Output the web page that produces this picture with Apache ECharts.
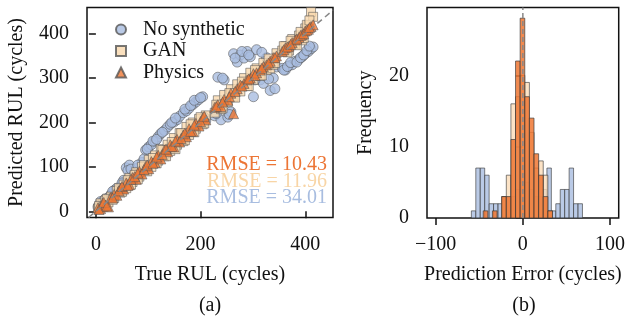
<!DOCTYPE html>
<html><head><meta charset="utf-8">
<script src="https://cdn.jsdelivr.net/npm/echarts@6/dist/echarts.min.js"></script>
<style>html,body{margin:0;padding:0;background:#fff}#c{width:628px;height:323px}</style>
</head><body><div id="c"></div>
<script>
// ---------- data ----------
const trueRUL = [4, 9, 13, 18, 24, 29, 35, 40, 47, 53, 58, 64, 70, 77, 83, 88, 95, 101, 106, 113,
  119, 124, 131, 137, 142, 149, 155, 160, 167, 173, 178, 185, 191, 197, 204, 210, 227, 233, 239, 245,
  252, 258, 263, 270, 276, 283, 289, 295, 301, 307, 314, 320, 326, 333, 339, 345, 356, 362, 369, 375,
  381, 388, 394, 400, 406, 411, 415,
  6, 15, 21, 32, 44, 50, 61, 67, 74, 80, 92, 98, 109, 116, 127, 134, 145, 152, 163, 170,
  181, 188, 200, 207, 230, 242, 255, 266, 279, 292, 304, 317, 330, 342, 359, 366, 372, 384, 391, 397,
  403, 408];
const predNoSynthetic = [10, 22, 16, 28, 31, 38, 47, 52, 55, 70, 98, 104, 88, 96, 90, 110, 138, 145, 150, 158,
  168, 175, 182, 190, 196, 201, 206, 214, 222, 226, 232, 240, 246, 252, 258, 204, 215, 302, 206, 296,
  212, 224, 355, 336, 352, 345, 360, 348, 258, 364, 296, 288, 346, 272, 300, 325, 322, 318, 328, 330,
  338, 342, 348, 355, 360, 366, 370,
  14, 24, 20, 45, 50, 64, 92, 95, 84, 104, 118, 140, 158, 162, 178, 140, 200, 210, 172, 230,
  238, 250, 256, 212, 220, 300, 218, 345, 360, 352, 296, 358, 298, 276, 318, 326, 335, 336, 346, 352,
  362, 372];
const predGAN = [6, 18, 10, 24, 20, 33, 30, 46, 42, 60, 52, 75, 66, 88, 78, 100, 92, 116, 100, 126,
  114, 140, 124, 150, 136, 165, 150, 176, 158, 190, 172, 200, 186, 208, 196, 216, 222, 250, 230, 262,
  246, 275, 258, 286, 270, 300, 282, 312, 296, 322, 305, 334, 318, 322, 330, 356, 362, 372, 362, 388,
  376, 396, 385, 412, 418, 449, 438,
  12, 10, 28, 26, 52, 44, 70, 60, 82, 72, 104, 90, 120, 108, 138, 124, 156, 140, 176, 160,
  196, 178, 212, 198, 240, 232, 266, 256, 292, 282, 318, 306, 344, 334, 372, 358, 384, 374, 404, 390,
  420, 430];
const predPhysics = [8, 6, 18, 14, 10, 32, 38, 36, 52, 50, 64, 60, 76, 72, 90, 84, 101, 96, 112, 110,
  126, 118, 138, 134, 150, 145, 162, 156, 172, 168, 186, 180, 198, 192, 210, 206, 234, 240, 236, 252,
  250, 266, 220, 276, 284, 288, 296, 300, 310, 312, 318, 326, 330, 338, 346, 350, 360, 368, 372, 380,
  386, 392, 398, 406, 410, 416, 420,
  4, 20, 12, 30, 46, 56, 58, 72, 78, 86, 94, 104, 108, 122, 128, 140, 146, 158, 164, 176,
  180, 194, 202, 214, 236, 246, 258, 270, 282, 298, 306, 322, 334, 346, 364, 370, 376, 388, 396, 400,
  408, 414];
const seriesNames = ['No synthetic', 'GAN', 'Physics'];
const rmseLabels = ['RMSE = 10.43', 'RMSE = 11.96', 'RMSE = 34.01'];

const histEdgesNoSynthetic = [-59.1, -54.0, -48.9, -43.8, -38.7, -33.6, -28.5, -23.4, -18.3, -13.2, -8.1, -3.0,
  2.1, 7.2, 12.3, 17.4, 22.5, 27.6, 32.7, 37.8, 42.9, 48.0, 53.1, 58.2, 63.3, 68.4];
const histCountsNoSynthetic = [1, 7, 7, 6, 2, 2, 2, 3, 3, 3, 4, 5, 5, 4, 3, 3, 4, 7, 1, 2, 4, 4, 7, 2, 2];
const histEdgesSynthetic = [-45.5, -40.2, -34.9, -29.6, -24.3, -19.0, -13.7, -8.4, -3.1, 2.2, 7.5, 12.8, 18.1, 23.4, 28.7, 34.0];
const histCountsGAN = [0, 0, 0, 0, 3, 6, 16, 17, 20, 19, 12, 7, 8, 6, 1];
const histCountsPhysics = [1, 0, 1, 0, 3, 3, 11, 22, 28, 17, 14, 9, 6, 3, 1];

const scatterXTicks = [0, 200, 400];
const scatterYTicks = [0, 100, 200, 300, 400];
const histXTicks = [-100, 0, 100];
const histYTicks = [0, 10, 20];

// ---------- styles ----------
const FONT = 'Liberation Serif';
const C_BLUE = '#a9bde0', C_BEIGE = '#f9d8ae', C_ORANGE = '#ee7733';
const BLACK = '#111';

const pairs = (ys) => trueRUL.map((x, i) => [x, ys[i]]);
const bins = (edges, counts) => counts.map((c, i) => [edges[i], edges[i + 1], c]);

function histRender(fill, opacity) {
  return function (params, api) {
    const h = api.value(2);
    if (!h) return null;
    const a = api.coord([api.value(0), h]);
    const b = api.coord([api.value(1), 0]);
    return {
      type: 'rect',
      shape: { x: a[0], y: a[1], width: b[0] - a[0], height: b[1] - a[1] },
      style: { fill: fill, stroke: '#3a3a3a', lineWidth: 0.8, opacity: opacity }
    };
  };
}

const minusFmt = (v) => String(v).replace('-', '\u2212');

function valueAxis(gi, min, max, ticks, name, nameGap, isY) {
  return {
    type: 'value', gridIndex: gi, min: min, max: max,
    name: name, nameLocation: 'middle', nameGap: nameGap,
    nameTextStyle: { fontFamily: FONT, fontSize: 20, color: BLACK },
    axisLine: { show: false },
    splitLine: { show: false },
    axisTick: { show: true, customValues: ticks, length: 7, lineStyle: { color: BLACK, width: 1.5 } },
    axisLabel: { customValues: ticks, fontFamily: FONT, fontSize: 20, color: BLACK,
      margin: isY ? 18 : 17, formatter: minusFmt }
  };
}

const chart = echarts.init(document.getElementById('c'), null, { renderer: 'canvas' });
chart.setOption({
  animation: false,
  backgroundColor: '#fff',
  grid: [
    { left: 87, top: 7.5, width: 246, height: 210, show: true, borderColor: BLACK, borderWidth: 1.5, backgroundColor: 'transparent' },
    { left: 427, top: 7.5, width: 194, height: 210.5, show: true, borderColor: BLACK, borderWidth: 1.5, backgroundColor: 'transparent' }
  ],
  xAxis: [
    valueAxis(0, -17, 453, scatterXTicks, 'True RUL (cycles)', 47, false),
    valueAxis(1, -110, 110, histXTicks, 'Prediction Error (cycles)', 47, false)
  ],
  yAxis: [
    valueAxis(0, -14, 459, scatterYTicks, 'Predicted RUL (cycles)', 60, true),
    valueAxis(1, 0, 29.5, histYTicks, 'Frequency', 51, true)
  ],
  legend: {
    data: seriesNames, orient: 'vertical', left: 115, top: 19.5, padding: 0,
    itemWidth: 10, itemHeight: 10, itemGap: 1.5,
    textStyle: { fontFamily: FONT, fontSize: 20, color: BLACK, lineHeight: 20, padding: [0, 0, 0, 12] }
  },
  graphic: [
    { type: 'text', x: 327, y: 165, style: { text: rmseLabels[0], fill: '#ec7535', font: '20px "Liberation Serif"', textAlign: 'right', textVerticalAlign: 'middle' } },
    { type: 'text', x: 327, y: 182, style: { text: rmseLabels[1], fill: '#f8d5a6', font: '20px "Liberation Serif"', textAlign: 'right', textVerticalAlign: 'middle' } },
    { type: 'text', x: 327, y: 198, style: { text: rmseLabels[2], fill: '#a8bde0', font: '20px "Liberation Serif"', textAlign: 'right', textVerticalAlign: 'middle' } },
    { type: 'text', x: 210, y: 306, style: { text: '(a)', fill: BLACK, font: '20px "Liberation Serif"', textAlign: 'center', textVerticalAlign: 'middle' } },
    { type: 'text', x: 524, y: 306, style: { text: '(b)', fill: BLACK, font: '20px "Liberation Serif"', textAlign: 'center', textVerticalAlign: 'middle' } }
  ],
  series: [
    { name: seriesNames[0], type: 'scatter', xAxisIndex: 0, yAxisIndex: 0, symbol: 'circle', symbolSize: 10,
      data: pairs(predNoSynthetic), itemStyle: { color: C_BLUE, opacity: 0.8, borderColor: '#555', borderWidth: 0.7 }, z: 2 },
    { name: seriesNames[1], type: 'scatter', xAxisIndex: 0, yAxisIndex: 0, symbol: 'rect', symbolSize: 9,
      data: pairs(predGAN), itemStyle: { color: C_BEIGE, opacity: 0.8, borderColor: '#555', borderWidth: 0.7 }, z: 3 },
    { name: seriesNames[2], type: 'scatter', xAxisIndex: 0, yAxisIndex: 0, symbol: 'triangle', symbolSize: 10,
      data: pairs(predPhysics), itemStyle: { color: C_ORANGE, opacity: 0.8, borderColor: '#555', borderWidth: 0.7 }, z: 4 },
    { name: 'ideal', type: 'line', xAxisIndex: 0, yAxisIndex: 0, data: [[-14, -14], [453, 453]], symbol: 'none',
      lineStyle: { color: '#888', width: 1.5, type: [6, 4] }, z: 5, silent: true },
    { name: 'hist No synthetic', type: 'custom', xAxisIndex: 1, yAxisIndex: 1, encode: { x: [0, 1], y: 2 },
      data: bins(histEdgesNoSynthetic, histCountsNoSynthetic), renderItem: histRender(C_BLUE, 0.8), z: 2 },
    { name: 'hist GAN', type: 'custom', xAxisIndex: 1, yAxisIndex: 1, encode: { x: [0, 1], y: 2 },
      data: bins(histEdgesSynthetic, histCountsGAN), renderItem: histRender('#fbdcb8', 0.8), z: 3 },
    { name: 'hist Physics', type: 'custom', xAxisIndex: 1, yAxisIndex: 1, encode: { x: [0, 1], y: 2 },
      data: bins(histEdgesSynthetic, histCountsPhysics), renderItem: histRender(C_ORANGE, 0.85), z: 4 },
    { name: 'zero', type: 'line', xAxisIndex: 1, yAxisIndex: 1, data: [[0, 0], [0, 29.5]], symbol: 'none',
      lineStyle: { color: '#888', width: 1.5, type: [5, 3] }, z: 5, silent: true }
  ]
});
</script></body></html>
